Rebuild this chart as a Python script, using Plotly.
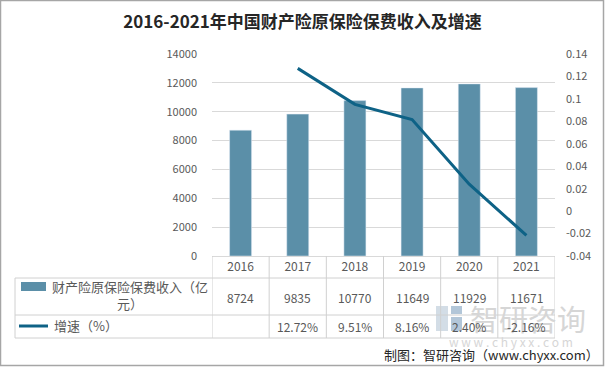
import plotly.graph_objects as go

# ---- data ----
years = ["2016", "2017", "2018", "2019", "2020", "2021"]
premium = [8724, 9835, 10770, 11649, 11929, 11671]          # 亿元
growth = [None, 0.1272, 0.0951, 0.0816, 0.0240, -0.0216]     # 增速
growth_labels = ["", "12.72%", "9.51%", "8.16%", "2.40%", "-2.16%"]
left_ticks = [0, 2000, 4000, 6000, 8000, 10000, 12000, 14000]
right_ticks = [-0.04, -0.02, 0, 0.02, 0.04, 0.06, 0.08, 0.1, 0.12, 0.14]
right_ticktext = ["-0.04", "-0.02", "0", "0.02", "0.04", "0.06", "0.08", "0.1", "0.12", "0.14"]
series1_name = "财产险原保险保费收入（亿<br>元）"
series2_name = "增速（%）"
title_text = "2016-2021年中国财产险原保险保费收入及增速"
source_text = "制图：智研咨询（www.chyxx.com）"

# ---- layout geometry ----
W, H = 605, 367
L, R, T, B = 212, 50, 54, 111
PW, PH = W - L - R, H - T - B


def px(x):
    return (x - L) / PW


def py(y):
    return (H - B - y) / PH


BAR_COLOR = "#5b8fa8"
LINE_COLOR = "#0e6286"
GRID = "#d9d9d9"
TXT = "#595959"
FONT = "Noto Sans CJK SC, Noto Sans, sans-serif"

fig = go.Figure()
fig.add_trace(go.Bar(x=years, y=premium, marker_color=BAR_COLOR, width=0.385,
                     name="premium", showlegend=False))
fig.add_trace(go.Scatter(x=years, y=growth, yaxis="y2", mode="lines",
                         line=dict(color=LINE_COLOR, width=3), showlegend=False))

shapes = []
line_style = dict(color="#d0d0d0", width=1)
# table horizontal lines
for yy in (278, 315, 338):
    shapes.append(dict(type="line", xref="paper", yref="paper",
                       x0=px(15), x1=px(555), y0=py(yy), y1=py(yy), line=line_style))
# vertical lines at category boundaries
for k in range(len(years) + 1):
    shapes.append(dict(type="line", xref="x", yref="paper",
                       x0=k - 0.5, x1=k - 0.5, y0=py(256), y1=py(338), line=line_style))
# left border of label column
shapes.append(dict(type="line", xref="paper", yref="paper",
                   x0=px(15), x1=px(15), y0=py(278), y1=py(338), line=line_style))
# legend keys
shapes.append(dict(type="rect", xref="paper", yref="paper",
                   x0=px(21), x1=px(46), y0=py(291), y1=py(282),
                   fillcolor=BAR_COLOR, line=dict(width=0)))
shapes.append(dict(type="line", xref="paper", yref="paper",
                   x0=px(19), x1=px(48), y0=py(326), y1=py(326),
                   line=dict(color=LINE_COLOR, width=3)))
# watermark logo blocks
shapes.append(dict(type="rect", xref="paper", yref="paper",
                   x0=px(436), x1=px(448), y0=py(331), y1=py(306),
                   fillcolor="#d3dde6", line=dict(width=0), layer="below"))
shapes.append(dict(type="rect", xref="paper", yref="paper",
                   x0=px(451), x1=px(462), y0=py(331), y1=py(317),
                   fillcolor="#b2c6d8", line=dict(width=0), layer="below"))
shapes.append(dict(type="rect", xref="paper", yref="paper",
                   x0=px(451), x1=px(462), y0=py(314), y1=py(306),
                   fillcolor="#b2c6d8", line=dict(width=0), layer="below"))
# outer border
shapes.append(dict(type="rect", xref="paper", yref="paper",
                   x0=px(0.5), x1=px(603.5), y0=py(365.5), y1=py(0.5),
                   line=dict(color="#a6a6a6", width=1.5)))

annotations = []
# watermark text
annotations.append(dict(text="智研咨询", xref="paper", yref="paper", x=px(528), y=py(318),
                        xanchor="center", yanchor="middle", showarrow=False,
                        font=dict(size=29, color="#d6d6d6", family=FONT)))
annotations.append(dict(text="w w w . c h y x x . c o m", xref="paper", yref="paper",
                        x=px(511), y=py(341), xanchor="center", yanchor="middle",
                        showarrow=False, font=dict(size=12, color="#d6d6d6", family=FONT)))
# table values
for i, yr in enumerate(years):
    annotations.append(dict(text=str(premium[i]), xref="x", yref="paper", x=i, y=py(297),
                            xanchor="center", yanchor="middle", showarrow=False,
                            font=dict(size=12, color=TXT, family=FONT)))
    if growth_labels[i]:
        annotations.append(dict(text=growth_labels[i], xref="x", yref="paper", x=i, y=py(326),
                                xanchor="center", yanchor="middle", showarrow=False,
                                font=dict(size=12, color=TXT, family=FONT)))
# legend labels
annotations.append(dict(text=series1_name, xref="paper", yref="paper", x=px(130), y=py(295),
                        xanchor="center", yanchor="middle", showarrow=False, align="center",
                        font=dict(size=13, color=TXT, family=FONT)))
annotations.append(dict(text=series2_name, xref="paper", yref="paper", x=px(52), y=py(325),
                        xanchor="left", yanchor="middle", showarrow=False,
                        font=dict(size=13, color=TXT, family=FONT)))
# source
annotations.append(dict(text=source_text, xref="paper", yref="paper", x=px(601), y=py(354),
                        xanchor="right", yanchor="middle", showarrow=False,
                        font=dict(size=13, color="#262626", family=FONT)))

fig.update_layout(
    width=W, height=H,
    margin=dict(l=L, r=R, t=T, b=B, pad=0),
    paper_bgcolor="white", plot_bgcolor="white",
    title=dict(text="<b>" + title_text + "</b>", x=0.5, xref="container", xanchor="center",
               y=1 - 22 / H, yref="container", yanchor="middle",
               font=dict(size=17, color="#262626", family=FONT)),
    font=dict(family=FONT, color=TXT),
    xaxis=dict(type="category", showgrid=False, showline=True, linecolor=GRID,
               ticks="", tickfont=dict(size=12, color=TXT), range=[-0.5, 5.5],
               fixedrange=True),
    yaxis=dict(range=[0, 14000], tickvals=left_ticks, tickformat="d", showgrid=True,
               gridcolor=GRID, zeroline=False, showline=False, ticks="",
               ticklabelstandoff=14, tickfont=dict(size=11, color=TXT)),
    yaxis2=dict(range=[-0.04, 0.14], tickvals=right_ticks, ticktext=right_ticktext,
                overlaying="y", side="right", showgrid=False, zeroline=False,
                showline=False, ticks="", ticklabelstandoff=10,
                tickfont=dict(size=11, color=TXT)),
    shapes=shapes, annotations=annotations,
    showlegend=False, bargap=0.6,
)

fig.write_html("out.html", config={"displayModeBar": False},
               post_script="document.body.style.margin='0';")
